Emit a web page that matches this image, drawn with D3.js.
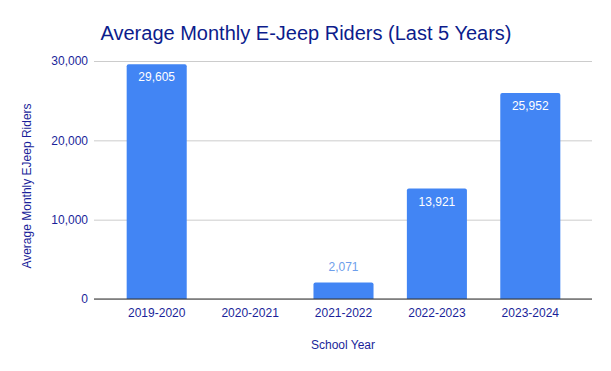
<!DOCTYPE html>
<html lang="en">
<meta charset="utf-8">
<head>
    <title>Average Monthly E-Jeep Riders</title>
    <script src="https://cdn.jsdelivr.net/npm/d3@7"></script>
    <style>
        body { margin: 0; background: #fff; font-family: Arial, "Liberation Sans", sans-serif; }
        .tick text { fill: #1a1f9a; font-size: 12px; font-family: Arial, "Liberation Sans", sans-serif; }
    </style>
</head>
<body>
<script>
    // Chart data
    const years = ["2019-2020", "2020-2021", "2021-2022", "2022-2023", "2023-2024"];
    const riders = [29605, null, 2071, 13921, 25952];
    const yTicks = [0, 10000, 20000, 30000];

    const width = 611, height = 371;
    const plot = { left: 94, right: 592, top: 61, bottom: 299 };

    const svg = d3.select("body").append("svg")
        .attr("width", width)
        .attr("height", height);

    const x = d3.scaleBand()
        .domain(years)
        .range([110, 577])
        .paddingInner(0.357)
        .paddingOuter(0.1785);

    const y = d3.scaleLinear()
        .domain([0, 30000])
        .range([plot.bottom, plot.top]);

    // gridlines + y labels
    const yAxis = svg.append("g")
        .attr("transform", `translate(${plot.left},0)`)
        .call(d3.axisLeft(y).tickValues(yTicks).tickFormat(d3.format(",")).tickSize(-(plot.right - plot.left)).tickPadding(6));
    yAxis.select(".domain").remove();
    yAxis.selectAll(".tick line").attr("stroke", "#cccccc");

    // bars
    const bars = years.map((d, i) => ({ year: d, value: riders[i] })).filter(d => d.value != null);
    const r = 2;
    svg.selectAll(".bar")
        .data(bars)
        .enter().append("path")
        .attr("class", "bar")
        .attr("fill", "#4285f4")
        .attr("d", d => {
            const x0 = x(d.year), w = x.bandwidth();
            const y0 = y(d.value), y1 = y(0);
            return `M${x0},${y1}V${y0 + r}Q${x0},${y0} ${x0 + r},${y0}H${x0 + w - r}Q${x0 + w},${y0} ${x0 + w},${y0 + r}V${y1}Z`;
        });

    // value labels
    svg.selectAll(".val")
        .data(bars)
        .enter().append("text")
        .attr("class", "val")
        .attr("x", d => x(d.year) + x.bandwidth() / 2)
        .attr("y", d => (plot.bottom - y(d.value)) > 30 ? y(d.value) + 17 : y(d.value) - 12)
        .attr("text-anchor", "middle")
        .attr("font-size", 12)
        .attr("fill", d => (plot.bottom - y(d.value)) > 30 ? "#ffffff" : "#6d9eeb")
        .text(d => d3.format(",")(d.value));

    // x axis
    const xAxis = svg.append("g")
        .attr("transform", `translate(0,${plot.bottom})`)
        .call(d3.axisBottom(x).tickSize(0).tickPadding(9));
    xAxis.select(".domain").remove();
    svg.append("line")
        .attr("x1", plot.left).attr("x2", plot.right)
        .attr("y1", plot.bottom).attr("y2", plot.bottom)
        .attr("stroke", "#333333").attr("stroke-width", 1);

    // titles
    svg.append("text")
        .attr("x", 306).attr("y", 40)
        .attr("text-anchor", "middle")
        .attr("font-size", 20)
        .attr("fill", "#0c1c8c")
        .text("Average Monthly E-Jeep Riders (Last 5 Years)");

    svg.append("text")
        .attr("x", (plot.left + plot.right) / 2).attr("y", 349)
        .attr("text-anchor", "middle")
        .attr("font-size", 12)
        .attr("fill", "#1a1f9a")
        .text("School Year");

    svg.append("text")
        .attr("transform", `translate(31,${(plot.top + plot.bottom) / 2 + 6}) rotate(-90)`)
        .attr("text-anchor", "middle")
        .attr("font-size", 12)
        .attr("fill", "#1a1f9a")
        .text("Average Monthly EJeep Riders");
</script>
</body>
</html>
